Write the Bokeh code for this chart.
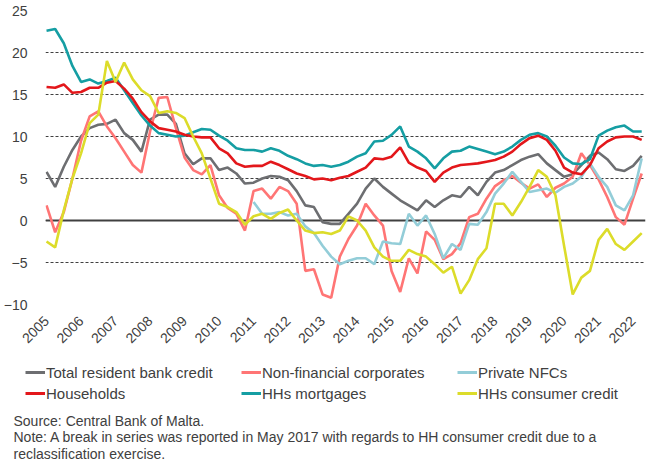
import math
import pandas as pd
from bokeh.plotting import figure
from bokeh.layouts import column
from bokeh.models import Legend, LegendItem, Label, FixedTicker, Span
from bokeh.embed import file_html
from bokeh.resources import INLINE

NaN = float("nan")

# quarterly observations, 2005Q1 .. 2022Q2
periods = pd.period_range("2005Q1", "2022Q2", freq="Q")
dates = [p.year + (p.quarter - 1) / 4 for p in periods]

year_ticks = list(range(2005, 2023))
y_ticks = [-10, -5, 0, 5, 10, 15, 20, 25]

total_credit = [
    5.8, 4.0, 6.4, 8.4,
    10.0, 11.0, 11.4, 11.5,
    12.0, 10.4, 9.6, 8.2,
    12.0, 12.6, 12.6, 11.5,
    8.0, 6.7, 7.4, 7.4,
    6.0, 6.3, 5.6, 4.4,
    4.5, 5.0, 5.3, 5.2,
    4.8, 3.5, 1.8, 1.6,
    -0.2, -0.4, -0.4, 0.8,
    2.0, 3.8, 5.0, 4.0,
    3.2, 2.4, 1.8, 1.2,
    2.4, 1.6, 2.4, 3.0,
    2.8, 4.0, 3.0, 4.6,
    5.7, 6.0, 6.6, 7.2,
    7.6, 7.9, 6.8, 6.0,
    5.2, 5.5, 6.6, 7.7,
    8.1, 7.3, 6.1, 5.9,
    6.5, 7.7,
]

nfc = [
    1.8, -1.4, 1.0, 5.0,
    9.5, 12.4, 13.0, 11.2,
    9.8, 8.2, 6.6, 5.7,
    10.6, 14.6, 14.7, 11.0,
    7.5, 6.0, 5.5, 6.6,
    3.0, 1.5, 0.8, -1.2,
    3.5, 3.8, 2.6, 4.0,
    3.5, 2.0, -6.0, -5.8,
    -8.8, -9.2, -4.3, -2.2,
    -0.6, 2.0, 0.6, -0.6,
    -6.0, -8.5, -4.5, -6.3,
    -1.3, -2.3, -4.6, -4.0,
    -2.7, 0.4, 0.8, 2.6,
    4.1, 4.8, 5.3, 4.5,
    3.8, 4.3, 2.8, 3.9,
    4.4, 5.2, 8.0, 6.6,
    4.9, 2.8, 0.4, -0.5,
    2.6, 5.6,
]

private_nfc = [
    NaN, NaN, NaN, NaN,
    NaN, NaN, NaN, NaN,
    NaN, NaN, NaN, NaN,
    NaN, NaN, NaN, NaN,
    NaN, NaN, NaN, NaN,
    NaN, NaN, NaN, NaN,
    2.2, 0.8, 0.8, 1.0,
    0.6, 0.8, -0.7, -1.5,
    -3.0, -4.3, -5.2, -4.8,
    -4.5, -4.5, -5.2, -2.5,
    -2.7, -2.8, 0.8, -0.6,
    0.6, -1.6, -4.5, -2.8,
    -3.5, -0.4, -0.5, 1.0,
    3.2, 4.4, 5.8, 4.6,
    3.4, 3.6, 3.8, 3.3,
    4.0, 4.4, 5.2, 6.8,
    5.2, 4.0, 1.8, 1.2,
    3.0, 7.4,
]

households = [
    15.9, 15.8, 16.2, 15.2,
    15.3, 15.8, 15.8, 16.4,
    16.6, 15.7, 14.5, 12.9,
    11.8, 11.0, 10.8, 10.6,
    10.2, 10.0, 9.9, 9.9,
    8.6, 8.0, 6.8, 6.4,
    6.5, 6.5, 7.0, 6.6,
    6.1, 5.6, 5.3, 4.9,
    5.0, 4.8, 5.1, 5.3,
    5.8, 6.3, 7.4, 7.3,
    7.6, 8.7, 6.9, 6.3,
    5.9, 4.6, 5.7, 6.3,
    6.6, 6.7, 6.8, 7.0,
    7.2, 7.6, 8.2, 9.1,
    9.8, 10.1, 9.6, 8.3,
    6.3, 5.7, 5.5, 6.6,
    8.6, 9.4, 9.9, 10.0,
    10.0, 9.6,
]

mortgages = [
    22.6, 22.8, 21.1, 18.4,
    16.5, 16.8, 16.3, 16.6,
    17.0, 15.5, 14.0, 12.5,
    11.3, 10.4, 10.2, 10.0,
    10.1, 10.5, 10.9, 10.8,
    10.1, 9.5, 8.6, 8.4,
    8.4, 8.2, 8.6, 8.3,
    7.7, 7.3, 6.8, 6.5,
    6.6, 6.4, 6.6, 7.0,
    7.6, 8.0, 9.4, 9.5,
    10.2, 11.2, 8.8, 8.2,
    7.4, 6.2, 7.4, 8.2,
    8.3, 8.8, 8.5, 8.2,
    7.9, 8.2, 8.8, 9.6,
    10.2, 10.4, 10.0, 8.9,
    7.5, 6.8, 6.7, 7.3,
    10.1, 10.7, 11.1, 11.3,
    10.6, 10.6,
]

consumer_credit = [
    -2.5, -3.2, 1.2, 5.0,
    8.0, 11.6, 12.6, 19.0,
    16.5, 18.8, 16.8, 15.5,
    14.8, 12.8, 13.0, 12.8,
    12.2, 10.0, 8.0, 5.0,
    2.0, 1.6, 1.0, -0.5,
    0.5, 0.8, 0.2, 0.9,
    1.3, 0.0, -1.2, -1.5,
    -1.4, -1.6, -1.2, 0.5,
    0.0, -1.2, -3.2, -4.3,
    -4.8, -4.8, -3.5, -4.0,
    -4.3, -5.2, -6.2, -5.5,
    -8.7, -7.1, -4.6, -3.3,
    2.0, 2.0, 0.6, 2.2,
    4.0, 6.0, 5.2, 3.0,
    -3.0, -8.8, -6.8, -6.0,
    -2.3, -1.0, -2.8, -3.5,
    -2.5, -1.5,
]

series = [
    ("Total resident bank credit", total_credit, "#6d6e71"),
    ("Non-financial corporates", nfc, "#ff7575"),
    ("Private NFCs", private_nfc, "#93cdd8"),
    ("Households", households, "#e3171b"),
    ("HHs mortgages", mortgages, "#159ea3"),
    ("HHs consumer credit", consumer_credit, "#dcdc2a"),
]
draw_order = [0, 1, 2, 4, 3, 5]

notes = [
    "Source: Central Bank of Malta.",
    "Note: A break in series was reported in May 2017 with regards to HH consumer credit due to a",
    "reclassification exercise.",
]

FONT = "Liberation Sans"
TXT = "#404040"

# ---------------- main chart ----------------
p = figure(width=652, height=350,
           x_range=(2004.97, 2022.36), y_range=(-10, 25),
           output_backend="svg", toolbar_location=None,
           min_border_left=45, min_border_right=7, min_border_top=10,
           min_border_bottom=46)
p.frame_align = False
p.outline_line_color = None
p.background_fill_color = "white"
p.border_fill_color = "white"

p.xgrid.visible = False
p.ygrid.ticker = FixedTicker(ticks=y_ticks)
p.ygrid.grid_line_color = "#404040"
p.ygrid.grid_line_dash = "3 2"
p.ygrid.grid_line_width = 1

zero = Span(location=0, dimension="width", line_color="#404040",
            line_width=2, level="underlay")
p.add_layout(zero)

p.yaxis.ticker = FixedTicker(ticks=y_ticks)
p.xaxis.ticker = FixedTicker(ticks=year_ticks)
for ax in (p.xaxis[0], p.yaxis[0]):
    ax.axis_line_color = None
    ax.major_tick_line_color = None
    ax.minor_tick_line_color = None
    ax.major_label_text_font = FONT
    ax.major_label_text_font_size = "14px"
    ax.major_label_text_color = TXT
p.yaxis.major_label_standoff = 12
p.xaxis.major_label_standoff = 8
p.xaxis.major_label_orientation = math.pi / 4

for i in draw_order:
    name, vals, col = series[i]
    p.line(dates, vals, line_color=col, line_width=2.6)

# ---------------- legend + notes panel ----------------
q = figure(width=652, height=113, x_range=(0, 652), y_range=(0, 113),
           output_backend="svg", toolbar_location=None,
           x_axis_location=None, y_axis_location=None,
           min_border=0, min_border_left=0, min_border_right=0,
           min_border_top=0, min_border_bottom=0)
q.frame_align = False
q.grid.visible = False
q.outline_line_color = None
q.background_fill_color = "white"
q.border_fill_color = "white"

# legend keys: same series, falling outside this panel's range
keys = [q.line(dates, vals, line_color=col, line_width=3) for _, vals, col in series]

for row, y_loc in ((0, 81), (1, 60)):
    leg = Legend(
        items=[LegendItem(label=series[i][0], renderers=[keys[i]])
               for i in range(row * 3, row * 3 + 3)],
        orientation="horizontal",
        label_text_font=FONT, label_text_font_size="15px", label_text_color=TXT,
        glyph_width=20, glyph_height=20, label_standoff=1, spacing=20,
        label_width=175, label_height=20, padding=0, margin=0,
        border_line_color=None, background_fill_alpha=0,
        location=(25, y_loc),
    )
    q.add_layout(leg)

for k, t in enumerate(notes):
    q.add_layout(Label(x=13, y=43 - 16.5 * k, text=t, text_font=FONT,
                       text_font_size="14px", text_color=TXT,
                       text_baseline="middle", text_align="left"))

layout = column(p, q, spacing=0)
open("out.html", "w").write(file_html(layout, INLINE))
